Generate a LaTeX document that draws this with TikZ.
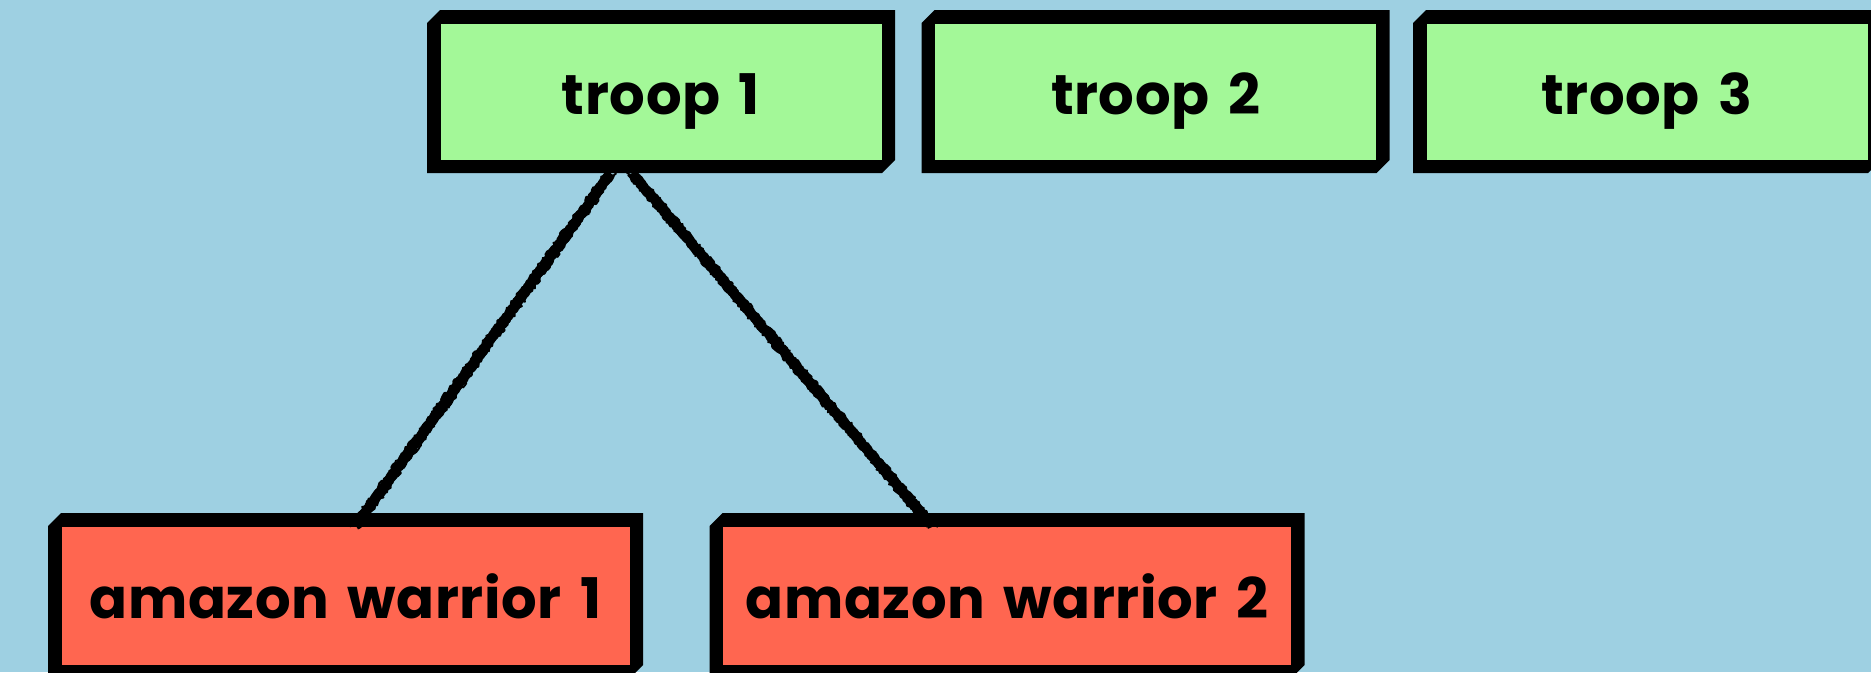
\documentclass[tikz,border=0pt]{standalone}
\usepackage{fontspec}
\setmainfont{Poppins}[LetterSpace=1,WordSpace=1.5]
\usetikzlibrary{calc,decorations.pathmorphing}
\definecolor{skyback}{RGB}{158,208,226}
\definecolor{troopgreen}{RGB}{163,248,152}
\definecolor{warriorred}{RGB}{255,102,80}
\begin{document}
\begin{tikzpicture}[x=1pt,y=-1pt,
  % box with a thick black frame, chamfered at the top-left and bottom-right
  unitbox/.style n args={3}{
    rectangle, draw=none, inner sep=0pt,
    minimum width=#2, minimum height=#3,
    text height=46pt, text depth=0pt,
    font=\bfseries\fontsize{56}{60}\selectfont,
    path picture={
      \fill[black]
        ($(path picture bounding box.north west)+(13,0)$) --
        (path picture bounding box.north east) --
        ($(path picture bounding box.south east)+(0,-13)$) --
        ($(path picture bounding box.south east)+(-13,0)$) --
        (path picture bounding box.south west) --
        ($(path picture bounding box.north west)+(0,13)$) -- cycle;
      \fill[#1]
        ($(path picture bounding box.north west)+(13.5,13.5)$) rectangle
        ($(path picture bounding box.south east)+(-13.5,-13.5)$);
    }},
  troop/.style={unitbox={troopgreen}{468pt}{163pt}},
  warrior/.style={unitbox={warriorred}{595pt}{165pt}},
  % chalky connector: a solid core with grainy strokes along its edges
  roughcore/.style={line width=10pt, line join=round, decorate,
    decoration={random steps, segment length=1.5pt, amplitude=0.8pt}},
  roughgrain/.style={line width=2pt, line join=round, decorate,
    decoration={random steps, segment length=2pt, amplitude=1.6pt}}
]
\useasboundingbox (0,0) rectangle (1871,672);
\fill[skyback] (0,0) rectangle (1871,672);
\clip (0,0) rectangle (1871,672);

\node[troop] (t1) at (661,91.5) {troop 1};
\node[troop] (t2) at (1155.5,91.5) {troop 2};
\node[troop] (t3) at (1647,91.5) {troop 3};

\node[warrior] (w1) at (345.5,595.5) {amazon warrior 1};
\node[warrior] (w2) at (1007,595.5) {amazon warrior 2};

\coordinate (a1) at ($(t1.south west)!0.393!(t1.south east)$);
\coordinate (b1) at ($(w1.north west)!0.516!(w1.north east)+(0,14)$);
\coordinate (a2) at ($(t1.south west)!0.438!(t1.south east)$);
\coordinate (b2) at ($(w2.north west)!0.375!(w2.north east)+(0,14)$);

\foreach \s/\e in {a1/b1, a2/b2}{
  \draw[roughcore] (\s) -- (\e);
  \draw[roughgrain] ($(\s)+(-5.5,0)$) -- ($(\e)+(-5.5,0)$);
  \draw[roughgrain] ($(\s)+(5.5,0)$) -- ($(\e)+(5.5,0)$);
}
\end{tikzpicture}
\end{document}
